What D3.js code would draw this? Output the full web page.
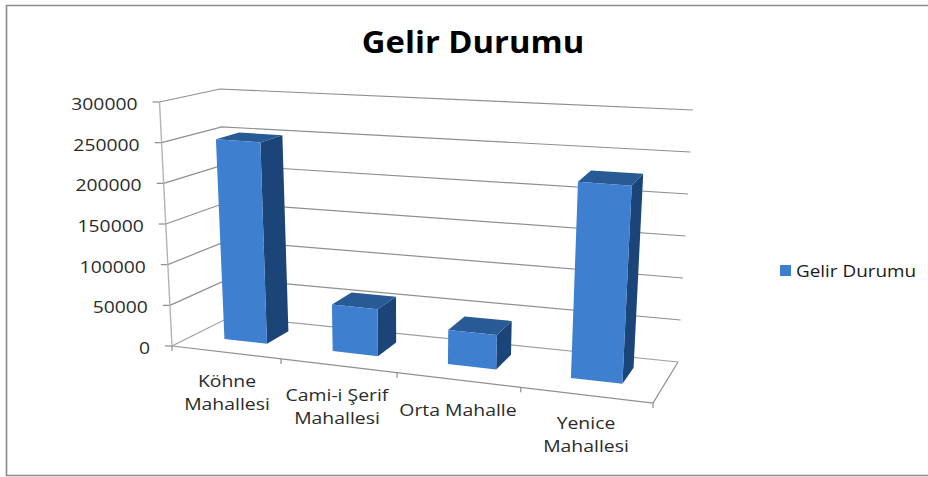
<!DOCTYPE html>
<html><head><meta charset="utf-8">
<script src="https://cdn.jsdelivr.net/npm/d3@7"></script>
<style>html,body{margin:0;padding:0;background:#fff}svg{display:block}text{font-family:"Open Sans",sans-serif}</style>
</head><body><svg id="c" width="928" height="477"></svg>
<script>
const categories = ["Köhne Mahallesi","Cami-i Şerif Mahallesi","Orta Mahalle","Yenice Mahallesi"];
const categoryLines = [["Köhne","Mahallesi"],["Cami-i Şerif","Mahallesi"],["Orta Mahalle"],["Yenice","Mahallesi"]];
const values = [250000,57000,41000,230000];
const yTicks = [0,50000,100000,150000,200000,250000,300000];
const seriesName = "Gelir Durumu";
const title = "Gelir Durumu";

const svg = d3.select("#c");
// frame: left, top and bottom only
svg.append("path").attr("d","M928,5.5H6.5V475.5H928").attr("fill","none").attr("stroke","#8a8a8a").attr("stroke-width",1.6);

// stretch a text horizontally to match the wide rendering of the reference
function stretch(sel,f){
  const n=sel.node(); const len=n.getComputedTextLength();
  sel.attr("textLength",len*f).attr("lengthAdjust","spacingAndGlyphs");
  return sel;
}

// box corners on screen
const bot={fl:[172,346],fr:[653,403],bl:[231,316.5],br:[678,362]};
const top_={fl:[159.5,102],fr:[667,138],bl:[220,89],br:[693,110]};
const warpK=1.137;
const warp=u=>u/(u+warpK*(1-u));
const lerp=(a,b,t)=>[a[0]+(b[0]-a[0])*t,a[1]+(b[1]-a[1])*t];
function project(u,d,v){
  const w=warp(u);
  const b=lerp(lerp(bot.fl,bot.fr,w),lerp(bot.bl,bot.br,w),d);
  const t=lerp(lerp(top_.fl,top_.fr,w),lerp(top_.bl,top_.br,w),d);
  return lerp(b,t,v);
}
const y=d3.scaleLinear().domain([0,300000]).range([0,1]);
const x=d3.scaleBand().domain(categories).range([0,1]).paddingInner(0.6).paddingOuter(0.3);
const band=d3.scaleBand().domain(categories).range([0,1]);
const depth=[0.36,0.76];
const line=d3.line();
const grid="#8f8f8f", axisC="#b4b4b4";

yTicks.forEach(t=>{
  const v=y(t);
  svg.append("path").attr("d",line([project(0,0,v),project(0,1,v),project(1,1,v)]))
    .attr("fill","none").attr("stroke",t===0?"#a0a0a0":grid).attr("stroke-width",1.2);
  const p=project(0,0,v);
  svg.append("line").attr("x1",p[0]-7).attr("y1",p[1]).attr("x2",p[0]).attr("y2",p[1]).attr("stroke","#8a8a8a").attr("stroke-width",1.2);
  stretch(svg.append("text").attr("x",p[0]-22).attr("y",p[1]+2).attr("dy","0.36em").attr("text-anchor","end")
    .attr("font-size",17).attr("fill","#2b2b2b").text(t),1.135);
});
svg.append("path").attr("d",line([project(0,0,1),project(0,0,0)])).attr("fill","none").attr("stroke",axisC).attr("stroke-width",1.4);
svg.append("path").attr("d",line([project(0,0,0),project(1,0,0),project(1,1,0)])).attr("fill","none").attr("stroke","#8f8f8f").attr("stroke-width",1.2);
[0,1,2,3,4].forEach(i=>{
  const p=project(i*band.step(),0,0);
  svg.append("line").attr("x1",p[0]).attr("y1",p[1]).attr("x2",p[0]).attr("y2",p[1]+5).attr("stroke","#8f8f8f").attr("stroke-width",1.2);
});

const front="#3e7fd0", side="#1b4478", topC="#285a96";
categories.forEach((c,i)=>{
  const u0=x(c),u1=x(c)+x.bandwidth(),v=y(values[i]);
  const [d0,d1]=depth;
  const g=svg.append("g");
  const poly=(pts,f)=>g.append("path").attr("d",line(pts)+"Z").attr("fill",f);
  poly([project(u1,d0,0),project(u1,d1,0),project(u1,d1,v),project(u1,d0,v)],side);
  poly([project(u0,d0,v),project(u1,d0,v),project(u1,d1,v),project(u0,d1,v)],topC);
  poly([project(u0,d0,0),project(u1,d0,0),project(u1,d0,v),project(u0,d0,v)],front);
});

const labelX=[227,337,458,586], labelY=[381,395,410,423];
categoryLines.forEach((ls,i)=>{
  ls.forEach((s,j)=>stretch(svg.append("text").attr("x",labelX[i]).attr("y",labelY[i]+j*23).attr("dy","0.36em")
    .attr("text-anchor","middle").attr("font-size",17).attr("fill","#2b2b2b").text(s),1.14));
});
stretch(svg.append("text").attr("x",473).attr("y",42).attr("dy","0.36em").attr("text-anchor","middle")
  .attr("font-size",31).attr("font-weight",700).attr("fill","#000").text(title),1.057);
svg.append("rect").attr("x",780).attr("y",265).attr("width",11).attr("height",11).attr("fill",front);
stretch(svg.append("text").attr("x",796).attr("y",271).attr("dy","0.36em").attr("font-size",17).attr("fill","#1a1a1a").text(seriesName),1.11);
</script></body></html>
